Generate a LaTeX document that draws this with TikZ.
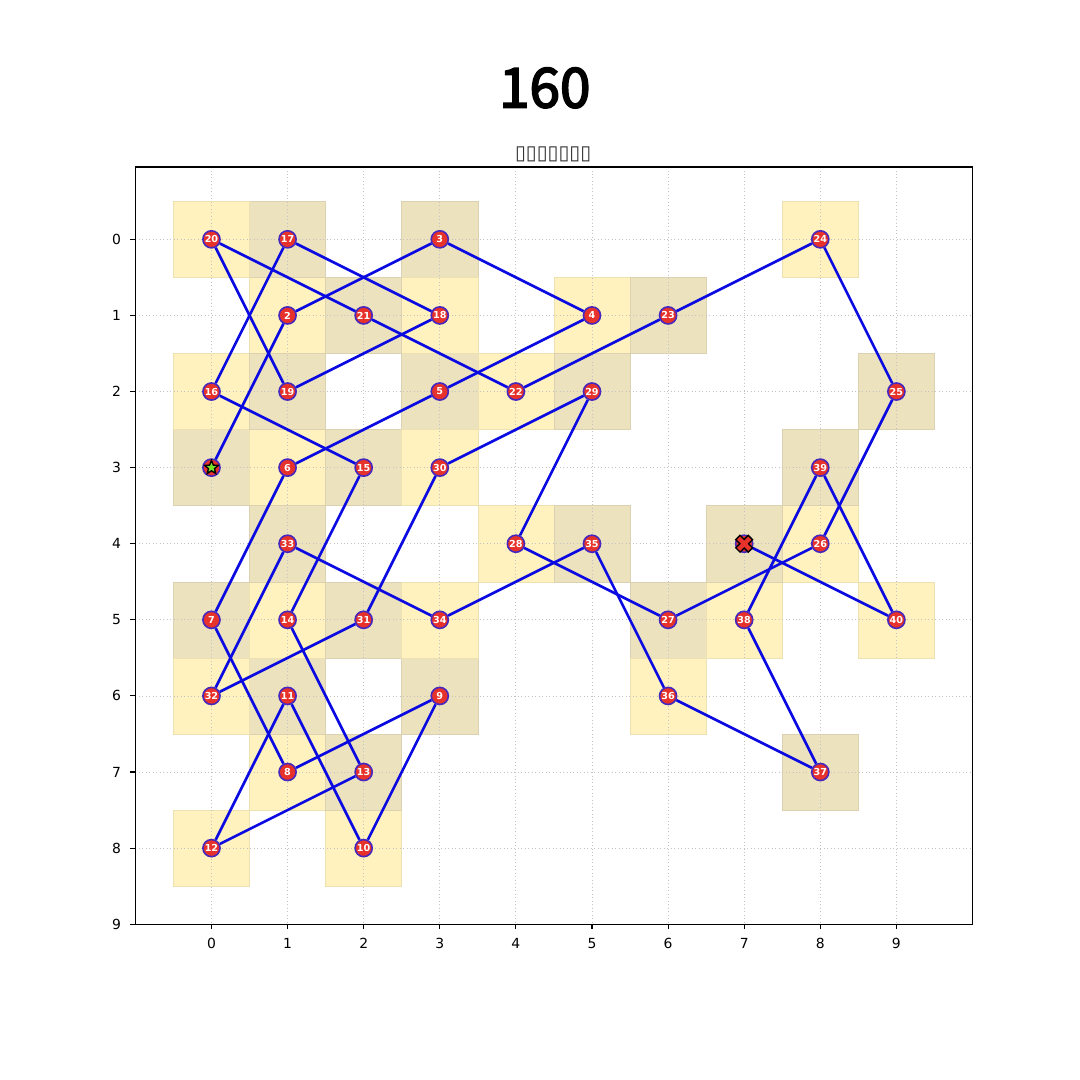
\documentclass[tikz,border=0pt]{standalone}
\usepackage{fontspec}
\setmainfont{DejaVu Sans}
\newfontfamily\titlefont{Noto Sans CJK SC}
\usepackage{xcolor}
\definecolor{tourblue}{RGB}{10,10,225}
\definecolor{dotred}{RGB}{230,50,42}
\definecolor{dotedge}{RGB}{70,40,190}
\definecolor{cellyellow}{RGB}{255,242,190}
\definecolor{celltan}{RGB}{237,226,190}
\definecolor{startgreen}{RGB}{120,230,40}
\definecolor{gridgray}{RGB}{195,195,195}
\usetikzlibrary{shapes.geometric}
% knight's path: step/column/row
\newcommand{\tourcells}{1/0/3,2/1/1,3/3/0,4/5/1,5/3/2,6/1/3,7/0/5,8/1/7,9/3/6,10/2/8,
  11/1/6,12/0/8,13/2/7,14/1/5,15/2/3,16/0/2,17/1/0,18/3/1,19/1/2,20/0/0,
  21/2/1,22/4/2,23/6/1,24/8/0,25/9/2,26/8/4,27/6/5,28/4/4,29/5/2,30/3/3,
  31/2/5,32/0/6,33/1/4,34/3/5,35/5/4,36/6/6,37/8/7,38/7/5,39/8/3,40/9/5,41/7/4}
% slightly heavier title text
\newcommand{\heavytext}[1]{\special{pdf:literal 2 Tr 0.65 w}#1\special{pdf:literal 0 Tr}}
\tikzset{
  tourdot/.style={circle, fill=dotred, draw=dotedge, line width=0.6pt,
    minimum size=0.225cm, inner sep=0pt, text=white,
    font=\fontsize{3.6}{3.6}\selectfont\bfseries},
  tourline/.style={tourblue, line width=1pt},
  ticklabel/.style={font=\fontsize{5.2}{6}\selectfont},
}

\begin{document}
\begin{tikzpicture}
      \useasboundingbox (-2.779,3.145) rectangle (11.413,-11.047);
      % Visited cells, checkerboard shading
      \foreach \i/\x/\y in \tourcells {
        \pgfmathtruncatemacro\cellpar{mod(\x+\y,2)}
        \ifnum\cellpar=0 \def\cellcol{cellyellow}\else\def\cellcol{celltan}\fi
        \filldraw[fill=\cellcol, draw=\cellcol!93!black, line width=0.2pt]
          (\x-0.5,-\y+0.5) rectangle (\x+0.5,-\y-0.5);
      }
      % Grid
      \foreach \k in {0,...,9} {
        \draw[gridgray, densely dotted, line width=0.3pt] (\k,0.95) -- (\k,-9);
        \draw[gridgray, densely dotted, line width=0.3pt] (-1,-\k) -- (10,-\k);
      }
      % Axes frame and ticks
      \draw[line width=0.5pt] (-1,0.95) rectangle (10,-9);
      \foreach \k in {0,...,9} {
        \draw[line width=0.4pt] (\k,-9) -- (\k,-9.065) node[below, ticklabel] (xt\k) {\k};
        \draw[line width=0.4pt] (-1,-\k) -- (-1.065,-\k) node[left, ticklabel] (yt\k) {\k};
      }
      % Squares of the tour
      \foreach \i/\x/\y in \tourcells {
        \node[tourdot] (n\i) at (\x,-\y) {\ifnum\i=1\else\ifnum\i=41\else\i\fi\fi};
      }
      % Moves
      \foreach \i [evaluate=\i as \j using int(\i+1)] in {1,...,40}
        \draw[tourline] (n\i) -- (n\j);
      % Start and end markers
      \node[star, star points=5, star point ratio=2.3, fill=startgreen, draw=black,
            line width=0.5pt, minimum size=0.19cm, inner sep=0pt] (startmark) at (n1) {};
      \filldraw[fill=dotred, draw=black, line width=0.5pt, shift={(n41.center)}, rotate=45]
        (0.04,0.116) -- (0.04,0.04) -- (0.116,0.04) -- (0.116,-0.04) -- (0.04,-0.04)
        -- (0.04,-0.116) -- (-0.04,-0.116) -- (-0.04,-0.04) -- (-0.116,-0.04)
        -- (-0.116,0.04) -- (-0.04,0.04) -- (-0.04,0.116) -- cycle;
      % Titles
      \node[font=\titlefont\fontsize{20.5}{24}\selectfont] (title) at (4.38,1.99) {\heavytext{160}};
      \node[font=\fontsize{7.4}{8}\selectfont, text=black!80] (subtitle) at (4.49,1.12) {▯▯▯▯▯▯▯};
\end{tikzpicture}
\end{document}
